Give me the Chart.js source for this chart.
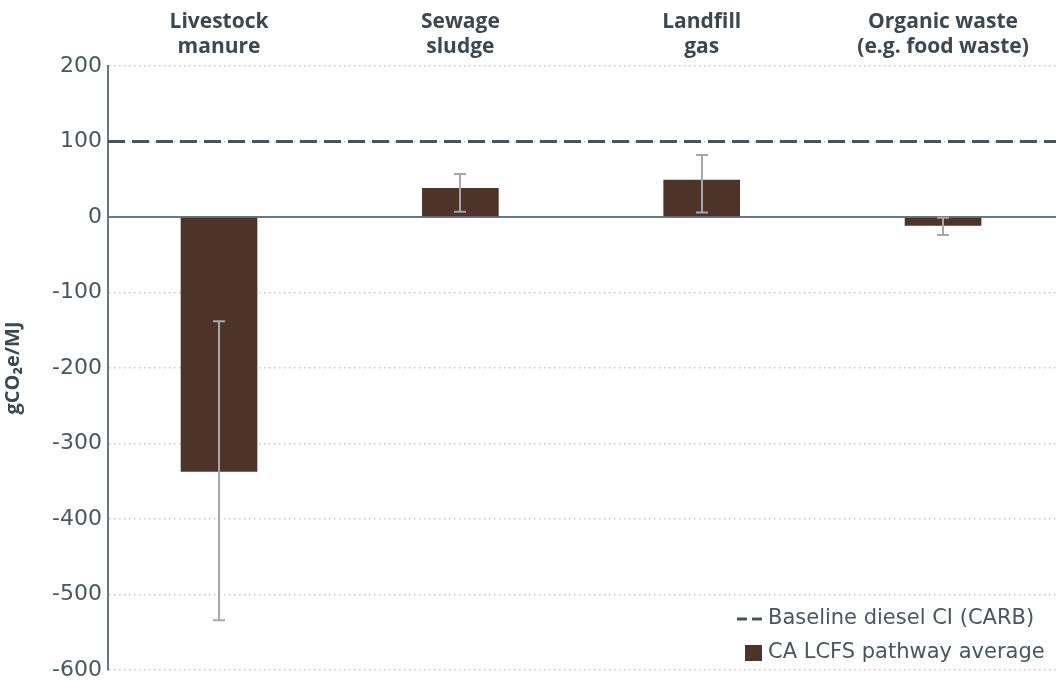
<!DOCTYPE html>
<html>
<head>
<meta charset="utf-8">
<script src="https://cdn.jsdelivr.net/npm/chart.js@4.4.1/dist/chart.umd.min.js"></script>
<style>
  html, body { margin: 0; padding: 0; background: #fff; }
  #wrap { width: 1056px; height: 680px; }
</style>
</head>
<body>
<div id="wrap"><canvas id="chart"></canvas></div>
<script>
// Feedstock categories (two-line labels along the top)
const categories = [
  ['Livestock', 'manure'],
  ['Sewage', 'sludge'],
  ['Landfill', 'gas'],
  ['Organic waste', '(e.g. food waste)']
];
// Average carbon intensity of CA LCFS pathways, gCO2e/MJ
const pathwayAvg = [-337, 38, 49, -11];
// Range of the pathways (whiskers)
const rangeLow = [-534, 7, 6, -24];
const rangeHigh = [-138, 57, 82, -1];
// Baseline diesel carbon intensity
const baselineDiesel = 100;
const yTickValues = [200, 100, 0, -100, -200, -300, -400, -500, -600];

const xMin = -0.46, xMax = 3.468;

const BAR = '#4e3329';
const INK = '#4a565e';
const AXIS = '#6b7780';

// whiskers for each bar, drawn on the value scale
const rangePlugin = {
  id: 'rangeBars',
  afterDatasetsDraw(chart) {
    const { ctx, scales: { x, y } } = chart;
    ctx.save();
    ctx.strokeStyle = '#a7a7ab';
    ctx.lineWidth = 2;
    categories.forEach((c, i) => {
      const px = Math.round(x.getPixelForValue(i));
      const top = y.getPixelForValue(rangeHigh[i]);
      const bot = y.getPixelForValue(rangeLow[i]);
      ctx.beginPath();
      ctx.moveTo(px, top); ctx.lineTo(px, bot);
      ctx.moveTo(px - 6, top); ctx.lineTo(px + 6, top);
      ctx.moveTo(px - 6, bot); ctx.lineTo(px + 6, bot);
      ctx.stroke();
    });
    ctx.restore();
  }
};

// legend in the lower right corner of the plot
const cornerLegend = {
  id: 'cornerLegend',
  afterDraw(chart) {
    const { ctx } = chart;
    const tx = 768;
    ctx.save();
    ctx.font = '21px "DejaVu Sans"';
    ctx.textBaseline = 'middle';
    chart.data.datasets.forEach((ds, k) => {
      const yy = 619 + k * 34;
      ctx.fillStyle = INK;
      ctx.fillText(ds.label, tx, yy);
      if (ds.type === 'line') {
        ctx.strokeStyle = ds.borderColor;
        ctx.lineWidth = 3;
        ctx.beginPath();
        ctx.moveTo(tx - 31, yy); ctx.lineTo(tx - 21, yy);
        ctx.moveTo(tx - 16, yy); ctx.lineTo(tx - 6, yy);
        ctx.stroke();
      } else {
        ctx.fillStyle = ds.backgroundColor;
        ctx.fillRect(tx - 23, yy - 8, 17, 16);
      }
    });
    ctx.restore();
  }
};

new Chart(document.getElementById('chart'), {
  type: 'bar',
  data: {
    datasets: [
      {
        type: 'line',
        label: 'Baseline diesel CI (CARB)',
        data: [{ x: xMin, y: baselineDiesel }, { x: xMax, y: baselineDiesel }],
        borderColor: '#48545c',
        borderWidth: 3,
        borderDash: [17, 7],
        pointRadius: 0,
        order: 0
      },
      {
        type: 'bar',
        label: 'CA LCFS pathway average',
        data: pathwayAvg.map((v, i) => ({ x: i, y: v })),
        backgroundColor: BAR,
        barThickness: 76,
        order: 1
      }
    ]
  },
  options: {
    responsive: true,
    maintainAspectRatio: false,
    animation: false,
    layout: { padding: { top: 0, right: 0, bottom: 10, left: 0 } },
    plugins: {
      legend: { display: false },
      tooltip: { enabled: false }
    },
    scales: {
      x: {
        type: 'linear',
        position: 'top',
        offset: false,
        min: xMin,
        max: xMax,
        afterBuildTicks: s => { s.ticks = categories.map((c, i) => ({ value: i })); },
        afterFit: s => { s.height = 66; },
        grid: { display: false, drawTicks: false, offset: false },
        border: { display: false },
        ticks: {
          callback: v => categories[v],
          color: '#3d4750',
          font: { family: '"Open Sans"', size: 21, weight: 'bold', lineHeight: 1.19 },
          padding: 6,
          maxRotation: 0,
          autoSkip: false
        }
      },
      y: {
        min: -600,
        max: 200,
        afterBuildTicks: s => { s.ticks = yTickValues.map(v => ({ value: v })); },
        afterFit: s => {
          s.width = 108;
          s.paddingTop = 0;
          s.paddingBottom = 0;
        },
        grid: {
          drawTicks: false,
          color: c => (c.tick && c.tick.value === 0) ? AXIS : '#c6c6c6',
          lineWidth: c => (c.tick && c.tick.value === 0) ? 2 : 1.5
        },
        border: {
          display: true,
          color: AXIS,
          width: 2,
          dash: c => (c.tick && c.tick.value === 0) ? [] : [1.5, 3.5]
        },
        ticks: {
          color: INK,
          font: { family: '"DejaVu Sans"', size: 22 },
          padding: 6
        },
        title: {
          display: true,
          text: 'gCO₂e/MJ',
          color: '#3d4750',
          font: { family: '"Open Sans"', size: 20, weight: 'bold' },
          padding: { top: 1, bottom: 0 }
        }
      }
    }
  },
  plugins: [rangePlugin, cornerLegend]
});
</script>
</body>
</html>
